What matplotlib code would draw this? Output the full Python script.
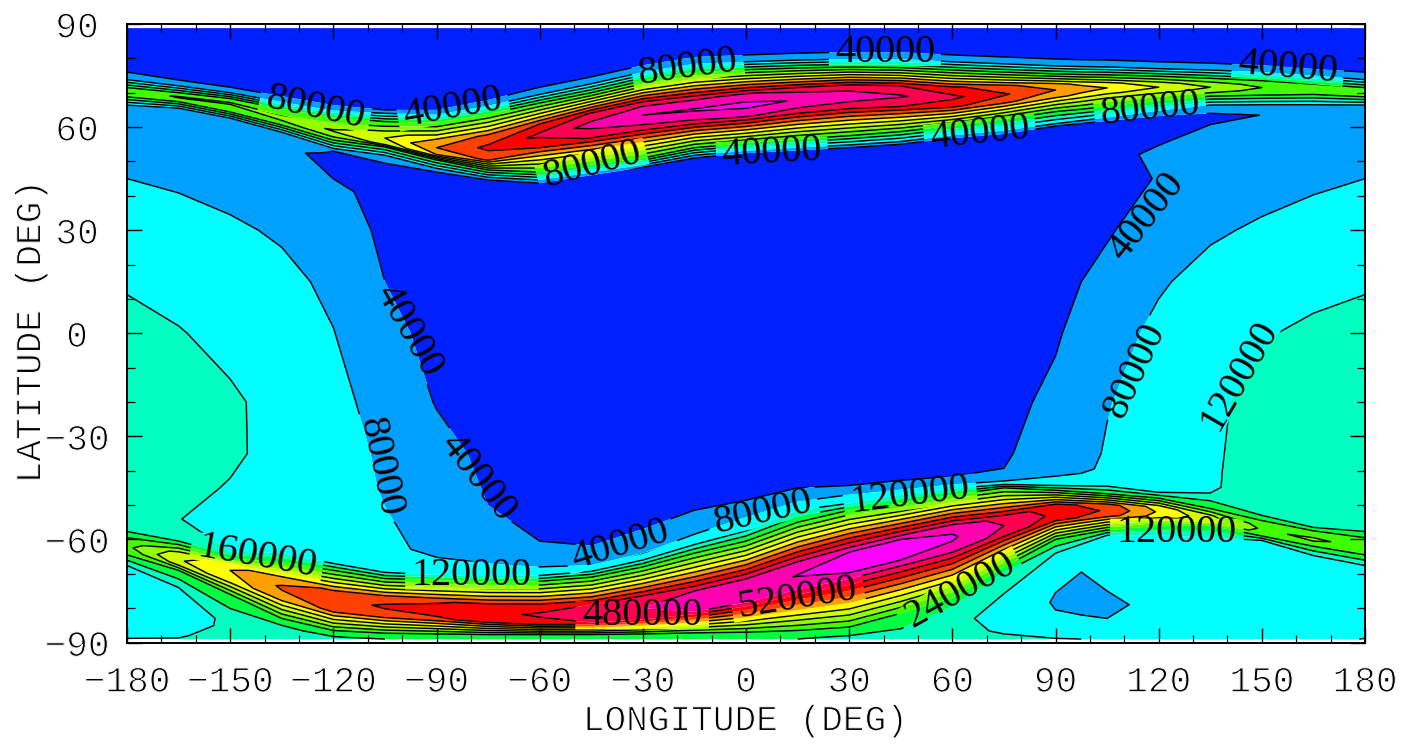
import numpy as np
import matplotlib
matplotlib.use("Agg")
import matplotlib.pyplot as plt
import matplotlib.patheffects as pe
from matplotlib.path import Path
from matplotlib.transforms import IdentityTransform

# Longitudes of the table columns
lons = [-180,-165,-150,-135,-120,-105,-90,-75,-60,-45,-30,-15,0,15,30,45,60,75,90,97.5,105,120,135,150,165,180]

# Each row: latitude per column, value (thousands) per column, south to north
b0_lat = [-89]*26
b0_val = [121,121,130,140,155,160,170,175,175,175,175,175,170,160,150,135,123,123,121,120,118,112,110,110,112,121]
b1_lat = [-88.6,-88,-88,-88,-88.5,-88.6,-88.7,-88.7,-88.7,-88.7,-88.7,-88.7,-88.7,-88.5,-88.5,-88,-87,-86.5,-80.5,-82,-83,-83,-84,-84,-84,-88.6]
b1_val = [119,118,128,144,158,165,175,178,178,178,178,178,174,165,154,142,125,118,80,80,80,90,98,103,106,119]
b2_lat = [-80,-82,-86.5,-87,-88,-88.2,-88.4,-88.4,-88.4,-88.4,-88.4,-88.3,-88.3,-88,-88,-87,-84.5,-81,-78,-76,-79,-79,-79,-78,-79,-80]
b2_val = [104,105,127,148,162,170,180,182,182,182,182,182,178,170,160,150,132,104,77,70,74,88,98,102,105,104]
b3_lat = [-72,-78,-85,-86,-87.5,-87.9,-88.1,-88.2,-88.2,-88.2,-88.1,-88,-87.9,-87.5,-87.3,-86,-82,-75.8,-75.5,-69.5,-75,-70,-70,-70,-72,-72]
b3_val = [108,108,125,153,170,178,185,187,187,187,187,186,184,178,168,160,145,120,80,80,80,100,100,105,108,108]
b4_lat = [-67.6,-74,-84,-85,-87,-87.6,-87.8,-87.9,-87.9,-87.9,-87.8,-87.6,-87.5,-87,-86.5,-84,-79.5,-69.6,-64,-61.4,-58.8,-58.8,-59.4,-60.3,-64.7,-67.6]
b4_val = [120,120,122,160,180,185,190,192,192,192,192,192,190,188,178,172,160,160,120,120,120,120,120,120,120,120]

s_foot_lo_lat = [-64.5,-69,-76,-83,-86.5,-87.3,-87.5,-87.7,-87.7,-87.7,-87.5,-87.2,-87,-86.5,-85.5,-81.5,-77,-68,-60,-58.6,-57.3,-56,-56,-59,-62,-64.5]
s_foot_lo_val = [200]*26
s_sh_lo_lat = [-63.2,-67.2,-72,-77,-81,-82.2,-83,-84,-84.5,-84.2,-83,-81,-78,-73.5,-69.7,-66,-62.5,-58.3,-54.2,-53.6,-53,-53.3,-55,-58,-61,-63.2]
s_sh_lo_val = [215,295,340,385,405,425,435,450,465,480,500,520,535,548,560,560,550,505,455,437,420,340,285,225,235,215]
s_ridge_lat = [-62,-66,-69,-74,-78,-79.5,-80.5,-81.5,-82,-81.5,-80,-78,-75,-70.5,-66.7,-63,-59.5,-56,-52.5,-52,-51.5,-52,-54,-57,-60,-62]
s_ridge_val = [230,315,360,405,425,445,455,470,485,500,520,540,550,561,575,575,565,520,470,452,435,355,295,235,245,230]
s_sh_up_lat = [-60.8,-64,-67.5,-71.5,-75,-77,-78,-79,-79.5,-79,-77,-75,-72,-67.5,-63.7,-60,-56.5,-53.7,-50,-50,-50,-50.5,-53,-56,-59,-60.8]
s_sh_up_val = [215,295,345,385,405,425,435,450,465,480,500,520,535,548,560,560,550,505,455,437,420,340,285,225,235,215]
s_foot_up_lat = [-59.5,-61.5,-65.5,-66.7,-69,-71.4,-71.8,-72.2,-72.2,-71,-68,-64,-60.5,-55,-51.5,-49.5,-47,-45,-45.7,-46.2,-46.7,-48,-51,-54.5,-57.5,-59.5]
s_foot_up_val = [200]*26
s_edge_lat = [-57.7,-59.5,-63.5,-64,-67,-69.6,-70.3,-70.7,-70.5,-69.3,-66,-61.5,-57.5,-51.5,-49.5,-47,-45.2,-44,-44.3,-44.4,-44.5,-46.3,-46.5,-53,-56.5,-57.7]
s_edge_val = [160,122,120,120,120,120,120,120,120,120,120,120,120,120,120,120,120,120,120,120,120,120,120,160,160,160]
r80_lat = [-50,-54,-55,-55,-60,-61,-64.7,-67,-68,-67.5,-64,-58.5,-53.5,-49,-47,-45.5,-44,-43,-41.6,-42.3,-43,-43,-44,-48,-50,-50]
r80_val = [150,121,105,102,92,84,76,80,80,80,80,80,80,80,80,80,80,80,80,87,95,108,116,135,145,150]
r40_lat = [-42,-45,-45,-45,-45,-45,-45,-50,-60.5,-61.8,-57,-51.5,-48.6,-45,-44.3,-42.8,-41.7,-39.3,-38,-39,-40,-40,-40,-42,-44,-42]
r40_val = [150,128,118,106,92,78,60,40,40,40,40,40,40,40,40,40,40,40,56,72,88,104,117,130,142,150]

m35_lat = [-35]*26
m35_val = [150,138,125,110,93,75,52,32,25,25,25,25,25,25,25,25,25,36,58,70,83,100,117,128,140,150]
m20_lat = [-20]*26
m20_val = [152,137,125,109,90,67,38,26,22,22,22,22,22,22,22,22,22,30,48,63,78,97,115,128,140,152]
eq_lat = [0]*26
eq_val = [135,122,110,96,81,52,28,22,22,22,22,22,22,22,22,22,22,30,36,51,66,88,102,117,127,135]
p15_lat = [15]*26
p15_val = [115,108,100,90,72,40,28,22,22,22,22,22,22,22,22,22,22,26,32,40,49,76,92,102,109,115]
p30_lat = [30]*26
p30_val = [100,93,86,75,59,33,24,22,22,22,22,22,22,22,22,22,22,22,28,32,37,55,75,85,93,100]
n0_lat = [45,45,45,45,42,40,38,37,37,38,39,42,42,42,42,45,45,45,45,45,45,45,45,45,45,45]
n0_val = [80,75,66,56,44,34,28,25,25,25,25,25,25,25,25,25,25,25,27,30,33,41,55,66,74,80]
na_lat = [55,55,55,54.5,50,43,41,40,40,41,43,46,47,48,49,50,51,52,53,52.5,52,52,55,55,55,55]
na_val = [70,68,58,46,33,28,25,25,25,25,25,25,25,25,25,25,25,25,25,28,32,45,50,58,68,70]
nb_lat = [60,60,59,56.5,51.5,47,44.5,42.5,41.7,44,46,49,50.3,51.2,52,53,54.8,56,58.3,59,59.8,60,63,63.5,62,60]
nb_val = [74,72,66,55,36,30,28,28,28,28,28,28,28,28,28,28,28,28,28,28,28,30,36,40.2,60,74]
nl40_lat = [63,62.5,60.5,57.2,53,49.5,46.9,44.6,43.7,46,48.3,51,52.4,53.2,54,55,56.8,58,60.3,61,61.8,63.2,64,65,64,63]
nl40_val = [77,75,71,62,40,40,40,40,40,40,40,40,40,40,40,40,40,40,40,40,40,40,40,55,70,77]
nl80_lat = [66.4,65.5,62.6,58.5,53.8,51.8,48,45.4,44.6,46.8,49,51.8,53.1,54,54.8,55.8,57.6,59,61,61.9,62.8,64.8,66.4,66.5,66.5,66.4]
nl80_val = [80]*26
n_foot_lo_lat = [68.8,67.4,64.4,60.6,56.2,54.2,50.4,47.5,46.9,49,51,54,55.3,56.5,57.5,58.7,60.4,62.3,64.5,65.2,66,67.7,69,69.3,69.5,68.8]
n_foot_lo_val = [200]*26
n_sh_lo_lat = [69.8,68,65.5,61.5,57.5,55,52,50.5,54,57,60,61.8,63.2,64.7,65.8,66,66,67.2,68.8,69.4,70,70.3,70.5,70.6,70.5,69.8]
n_sh_lo_val = [208,225,225,230,255,290,360,410,440,485,510,515,525,506,495,480,450,410,370,350,330,295,260,225,203,208]
n_ridge_lat = [70.8,68.7,67,62.6,59,56.8,54,54,57.7,60.6,63.5,65,66.4,67.9,69,69,68.7,69.5,70.8,71.1,71.4,71.6,71.6,71.5,71.6,70.8]
n_ridge_val = [215,245,245,255,285,320,400,450,490,535,560,565,575,556,545,525,490,445,400,380,360,320,280,240,205,215]
n_sh_up_lat = [71.2,69.5,67.6,64,60.5,58.5,56.5,57.5,60.9,64,66.7,68.2,69.6,71,72,72,71.5,72,72.5,72.6,72.8,72.8,72.6,72.4,72,71.2]
n_sh_up_val = [208,225,225,230,255,290,360,410,440,485,510,515,525,506,495,480,450,410,370,350,330,295,260,225,203,208]
n_foot_up_lat = [71.5,70,68.3,65.3,62.8,61.6,61.3,63.8,67,70,73.5,76,76.7,77.2,77.5,77.3,76.6,76,75.5,75.3,75.2,74.8,74.2,73.5,72.5,71.5]
n_foot_up_val = [200]*26
nu80_lat = [73.8,72,70,67.3,64.8,64,63.6,66.2,69.5,72.6,76,78.4,79,79.5,79.8,79.8,79,78.4,77.8,77.6,77.5,77,76.6,76,75,73.8]
nu80_val = [80]*26
nu40_lat = [76,73.7,71.6,69,66.4,65,65,67.9,71.6,74.6,78,80.4,81,81.5,81.8,81.8,81,80.4,79.8,79.6,79.5,79,78.6,78,76.9,76]
nu40_val = [40]*26
cap_lat = [85]*26
cap_val = [30]*26
top_lat = [88.8]*26
top_val = [22]*26

# Contour labels: text, longitude, latitude, angle
label_texts = ["80000","40000","80000","40000","40000","80000","40000","40000","80000","40000",
               "40000","40000","80000","80000","120000","160000","120000","40000","80000","120000",
               "120000","480000","520000","240000"]
label_lons = [-125.3,-85.2,-16.9,40.4,157.6,117.5,68,7.6,-44.8,116.6,
              -98,-78.2,-106.4,113.1,143.4,-142.2,-79.7,-36.6,4.9,47.7,
              125.3,-30.2,15.1,62.2]
label_lats = [65.5,65.5,77.2,81.8,77.2,65.2,58.2,52.4,48.9,33.8,
              0.9,-42,-39,-10.8,-12.2,-65,-70.5,-61.8,-52.1,-47.2,
              -58,-82.1,-77.2,-74.9]
label_angles = [-12,10,8,0,-5,6,6,3,15,52,-60,-52,-78,65,60,-10,0,17,13,7,0,0,9,29]

levels = [0,40,80,120,160,200,240,280,320,360,400,440,480,520,560,1000]
fill_colors = ["#0020FF","#00A0FF","#00FFFF","#00FFC0","#00FF40","#40FF00","#90FF00","#D0FF00",
               "#FFFF00","#FFA000","#FF4000","#FF0000","#FF0050","#FF00B0","#FF00FF"]
line_levels = levels[1:-1]

lat_rows = [b0_lat,b1_lat,b2_lat,b3_lat,b4_lat,s_foot_lo_lat,s_sh_lo_lat,s_ridge_lat,s_sh_up_lat,s_foot_up_lat,
            s_edge_lat,r80_lat,r40_lat,m35_lat,m20_lat,eq_lat,p15_lat,p30_lat,n0_lat,na_lat,nb_lat,nl40_lat,nl80_lat,
            n_foot_lo_lat,n_sh_lo_lat,n_ridge_lat,n_sh_up_lat,n_foot_up_lat,nu80_lat,nu40_lat,cap_lat,top_lat]
val_rows = [b0_val,b1_val,b2_val,b3_val,b4_val,s_foot_lo_val,s_sh_lo_val,s_ridge_val,s_sh_up_val,s_foot_up_val,
            s_edge_val,r80_val,r40_val,m35_val,m20_val,eq_val,p15_val,p30_val,n0_val,na_val,nb_val,nl40_val,nl80_val,
            n_foot_lo_val,n_sh_lo_val,n_ridge_val,n_sh_up_val,n_foot_up_val,nu80_val,nu40_val,cap_val,top_val]

Y = np.array(lat_rows, float)
Z = np.array(val_rows, float)
X = np.tile(np.array(lons, float), (Y.shape[0], 1))
bad = np.argwhere(np.diff(Y, axis=0) <= 0)
if len(bad):
    raise SystemExit("non-monotonic rows: " + str(bad.tolist()))

W, H = 1413, 751
L, R, T, B = 127, 1365, 24, 642.5
TXT = "black"
FONT = "Liberation Mono"
THIN = [pe.Normal(), pe.Stroke(linewidth=0.8, foreground="white")]

fig = plt.figure(figsize=(W/100, H/100), dpi=100, facecolor="white")
ax = fig.add_axes([L/W, 1-B/H, (R-L)/W, (B-T)/H])
ax.contourf(X, Y, Z, levels=levels, colors=fill_colors, antialiased=True)
cs = ax.contour(X, Y, Z, levels=line_levels, colors="black", linewidths=1.05)
ax.set_xlim(-180, 180)
ax.set_ylim(-90, 90)

# labels, with the lines cleared under each one
verts, codes = [], []
corners = np.array([[-1,-1],[-1,1],[1,1],[1,-1],[-1,-1]], float)
verts += [(0,0),(W,0),(W,H),(0,H),(0,0)]
codes += [Path.MOVETO,Path.LINETO,Path.LINETO,Path.LINETO,Path.CLOSEPOLY]
for s, lo, la, ang in zip(label_texts, label_lons, label_lats, label_angles):
    ax.text(lo, la, s, rotation=ang, rotation_mode="anchor", ha="center", va="center",
            fontsize=29, family="Liberation Serif", color="black", zorder=5)
    cx, cy = ax.transData.transform((lo, la))
    a = np.deg2rad(ang)
    hw, hh = 10.8*len(s)+2, 14
    rot = np.array([[np.cos(a),-np.sin(a)],[np.sin(a),np.cos(a)]])
    pts = (rot @ (corners*[hw,hh]).T).T + [cx,cy]
    verts += [tuple(p) for p in pts]
    codes += [Path.MOVETO,Path.LINETO,Path.LINETO,Path.LINETO,Path.CLOSEPOLY]
cs.set_clip_path(Path(verts, codes), IdentityTransform())

ax.set_xticks(np.arange(-180, 181, 30))
ax.set_yticks(np.arange(-90, 91, 30))
ax.set_xticks(np.arange(-180, 181, 10), minor=True)
ax.set_yticks(np.arange(-90, 91, 10), minor=True)
ax.tick_params(which="major", direction="in", top=True, right=True, length=10.5, width=1.0, color="black")
ax.tick_params(which="minor", direction="in", top=True, right=True, length=5.5, width=0.9, color="black")
ax.tick_params(axis="x", which="major", pad=16, labelsize=26, labelcolor=TXT)
ax.tick_params(axis="y", which="major", pad=36, labelsize=26, labelcolor=TXT)
for t in ax.get_xticklabels() + ax.get_yticklabels():
    t.set_family(FONT)
    t.set_path_effects(THIN)
for t in ax.get_yticklabels():
    t.set_ha("center")
for s in ax.spines.values():
    s.set_linewidth(1.4)
    s.set_color("black")
    s.set_zorder(6)

fig.text(745/W, 1-721/H, "LONGITUDE (DEG)", ha="center", va="center", fontsize=26, family=FONT, color=TXT, path_effects=THIN)
fig.text(31/W, 1-332/H, "LATITUDE (DEG)", ha="center", va="center", rotation=90, fontsize=26, family=FONT, color=TXT, path_effects=THIN)

fig.savefig("out.png", dpi=100)
